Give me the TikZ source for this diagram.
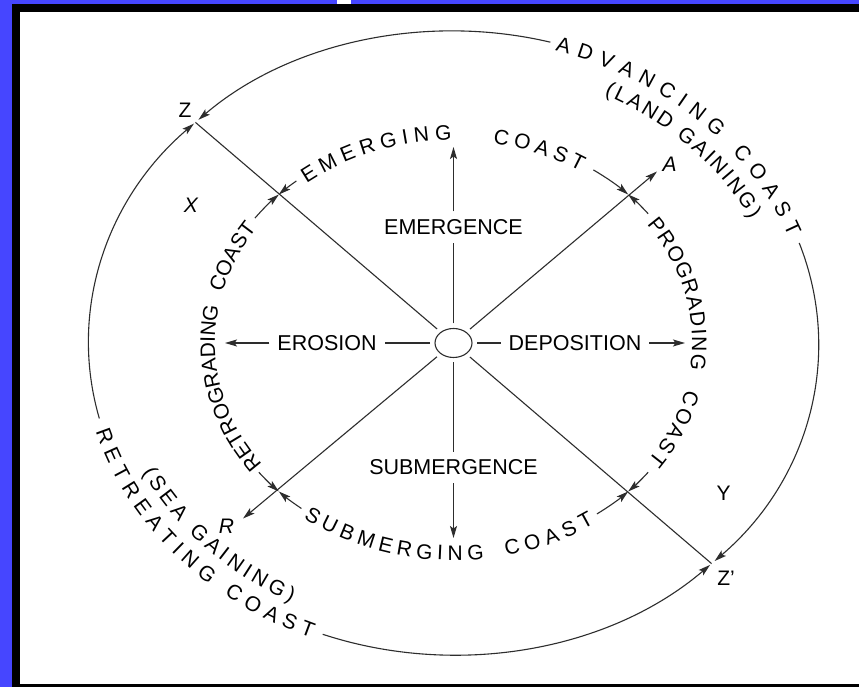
\documentclass[tikz,border=0pt]{standalone}
\usepackage{fontspec}
\setmainfont{Liberation Sans}
\usetikzlibrary{arrows.meta,shapes.geometric,decorations.text}
\definecolor{framebg}{RGB}{70,70,255}
\definecolor{ink}{RGB}{45,45,45}
\newcommand\lblfont{\fontsize{21}{25}\selectfont}
\newcommand\wordfont{\fontsize{21.5}{25}\selectfont}
% outer ring radii, inner ring radii (text / arrows)
\def\orx{365}\def\ory{312}
\def\mrx{339}\def\mry{286}
\def\irx{246}\def\iry{210}
\def\arx{247}\def\ary{210}

\begin{document}
\begin{tikzpicture}[x=1pt,y=1pt,
  line/.style={draw=ink, line width=1.1pt},
  arr/.style={line, -{Stealth[length=12pt,width=7pt,inset=2.5pt]}},
  rarr/.style={line, {Stealth[length=12pt,width=7pt,inset=2.5pt]}-},
  word/.style={font=\wordfont, inner sep=0pt, outer sep=8pt, text=black},
  tag/.style={font=\lblfont, inner sep=0pt, text=black},
  ringtext/.style={decorate, decoration={text along path, text={|\lblfont|#1},
      text align={fit to path}, raise=-7.4pt, text color=black}},
]
\useasboundingbox (0,0) rectangle (859,687);
% frame
\fill[framebg] (0,0) rectangle (859,687);
\fill[black] (12,0) rectangle (859,683);
\fill[white] (20,3) rectangle (859,675);
\fill[white] (337,683) rectangle (351,687);

% centre
\coordinate (C) at (453.5,344);
\node[draw=ink, line width=1.1pt, ellipse, minimum width=37pt, minimum height=29pt,
      inner sep=0pt, outer sep=5pt] (hub) at (C) {};

% key points
\coordinate (Z)  at ([shift={(C)}]135:\orx\space and \ory);
\coordinate (Zp) at ([shift={(C)}]-45:\orx\space and \ory);
\coordinate (Atip) at (657,515.5);
\coordinate (Rtip) at (243,168.5);
\coordinate (ul) at ([shift={(C)}]135:\arx\space and \ary);
\coordinate (ur) at ([shift={(C)}]45:\arx\space and \ary);
\coordinate (ll) at ([shift={(C)}]225:\arx\space and \ary);
\coordinate (lr) at ([shift={(C)}]315:\arx\space and \ary);
\coordinate (emtip)  at (453.5,540);
\coordinate (subtip) at (453.5,149);
\coordinate (erotip) at (225,344);
\coordinate (deptip) at (685,344);

% spokes
\node[word] (emerg) at (453.5,460) {EMERGENCE};
\node[word] (subm)  at (453.5,219.5) {SUBMERGENCE};
\node[word] (eros)  at (327,344) {EROSION};
\node[word] (depo)  at (575,344) {DEPOSITION};
\draw[line] (hub) -- (emerg);
\draw[arr] (emerg) -- (emtip);
\draw[line] (hub) -- (subm);
\draw[arr] (subm) -- (subtip);
\draw[line] (hub) -- (eros);
\draw[arr] (eros) -- (erotip);
\draw[line] (hub) -- (depo);
\draw[arr] (depo) -- (deptip);
\draw[line] (hub) -- (Z);
\draw[line] (hub) -- (Zp);
\draw[arr] (hub) -- (Atip);
\draw[arr] (hub) -- (Rtip);

% outer ring arcs
\draw[rarr, shorten <=4pt] (Z) arc[start angle=135, end angle=74.6, x radius=\orx, y radius=\ory];
\draw[rarr, shorten <=2pt] (Z) arc[start angle=135, end angle=194, x radius=\orx, y radius=\ory];
\draw[rarr, shorten <=4pt] (Zp) arc[start angle=-45, end angle=18.7, x radius=\orx, y radius=\ory];
\draw[rarr, shorten <=2pt] (Zp) arc[start angle=-45, end angle=-111, x radius=\orx, y radius=\ory];

% outer ring labels
\path[ringtext={ADVANCING COAST}] ([shift={(C)}]73.5:\orx\space and \ory)
  arc[start angle=73.5, end angle=20.5, x radius=\orx, y radius=\ory];
\path[ringtext={(LAND GAINING)}] ([shift={(C)}]63:\mrx\space and \mry)
  arc[start angle=63, end angle=26.5, x radius=\mrx, y radius=\mry];
\path[ringtext={RETREATING COAST}] ([shift={(C)}]196:\orx\space and \ory)
  arc[start angle=196, end angle=247.5, x radius=\orx, y radius=\ory];
\path[ringtext={(SEA GAINING)}] ([shift={(C)}]206:\mrx\space and \mry)
  arc[start angle=206, end angle=242, x radius=\mrx, y radius=\mry];

% inner ring arrows
\draw[rarr] (ul) arc[start angle=135, end angle=129.5, x radius=\arx, y radius=\ary];
\draw[rarr] (ul) arc[start angle=135, end angle=143.5, x radius=\arx, y radius=\ary];
\draw[rarr] (ur) arc[start angle=45, end angle=55.5, x radius=\arx, y radius=\ary];
\draw[rarr] (ur) arc[start angle=45, end angle=38, x radius=\arx, y radius=\ary];
\draw[rarr] (lr) arc[start angle=315, end angle=322, x radius=\arx, y radius=\ary];
\draw[rarr] (lr) arc[start angle=315, end angle=305.5, x radius=\arx, y radius=\ary];
\draw[rarr] (ll) arc[start angle=225, end angle=232, x radius=\arx, y radius=\ary];
\draw[rarr] (ll) arc[start angle=225, end angle=218, x radius=\arx, y radius=\ary];

% inner ring labels
\path[ringtext={EMERGING}] ([shift={(C)}]127.8:\irx\space and \iry)
  arc[start angle=127.8, end angle=90.5, x radius=\irx, y radius=\iry];
\path[ringtext={COAST}] ([shift={(C)}]80.5:\irx\space and \iry)
  arc[start angle=80.5, end angle=58, x radius=\irx, y radius=\iry];
\path[ringtext={PROGRADING}] ([shift={(C)}]36:\irx\space and \iry)
  arc[start angle=36, end angle=-7.5, x radius=\irx, y radius=\iry];
\path[ringtext={COAST}] ([shift={(C)}]-13.5:\irx\space and \iry)
  arc[start angle=-13.5, end angle=-35.5, x radius=\irx, y radius=\iry];
\path[ringtext={SUBMERGING}] ([shift={(C)}]233.5:\irx\space and \iry)
  arc[start angle=233.5, end angle=277, x radius=\irx, y radius=\iry];
\path[ringtext={COAST}] ([shift={(C)}]282:\irx\space and \iry)
  arc[start angle=282, end angle=304, x radius=\irx, y radius=\iry];
\path[ringtext={RETROGRADING}] ([shift={(C)}]216.8:\irx\space and \iry)
  arc[start angle=216.8, end angle=169.5, x radius=\irx, y radius=\iry];
\path[ringtext={COAST}] ([shift={(C)}]165.4:\irx\space and \iry)
  arc[start angle=165.4, end angle=145.5, x radius=\irx, y radius=\iry];

% point labels
\node[tag] (zlab) at (185,577) {Z};
\node[tag, font=\lblfont\itshape] (xlab) at (191,482) {X};
\node[tag, font=\lblfont\itshape] (alab) at (669.5,523) {A};
\node[tag, font=\lblfont\itshape] (rlab) at (226.5,160.5) {R};
\node[tag] (ylab) at (723.5,193.5) {Y};
\node[tag] (zplab) at (726,109) {Z’};
\end{tikzpicture}
\end{document}
